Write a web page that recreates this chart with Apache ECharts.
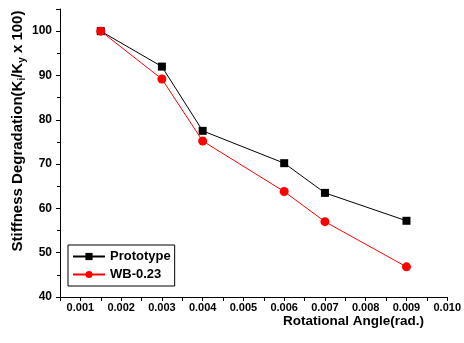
<!DOCTYPE html>
<html>
<head>
<meta charset="utf-8">
<script src="https://cdn.jsdelivr.net/npm/echarts@6/dist/echarts.min.js"></script>
<style>
html, body { margin: 0; padding: 0; background: #fff; }
#chart { width: 464px; height: 343px; }
</style>
</head>
<body>
<div id="chart"></div>
<script>
var angles = [0.0015, 0.003, 0.004, 0.006, 0.007, 0.009];
var prototype = [100, 92, 77.5, 70.2, 63.5, 57.2];
var wb023 = [100, 89.2, 75.2, 63.8, 57, 46.8];
var seriesNames = ['Prototype', 'WB-0.23'];

var pairs = function (xs, ys) {
    return xs.map((x, i) => [x, ys[i]])
}

var font = 'Arial, "Liberation Sans", sans-serif';

var chart = echarts.init(document.getElementById('chart'));
chart.setOption({
    animation: false,
    grid: { left: 60, top: 9, right: 14, bottom: 46 },
    legend: {
        data: seriesNames,
        orient: 'vertical',
        left: 68,
        top: 245,
        itemWidth: 32,
        itemHeight: 9,
        itemGap: 5,
        padding: [5, 4, 5, 4],
        borderColor: '#000',
        borderWidth: 1,
        textStyle: { fontFamily: font, fontWeight: 'bold', fontSize: 13, color: '#000' }
    },
    xAxis: {
        type: 'value',
        min: 0.0005,
        max: 0.010,
        interval: 0.0005,
        splitLine: { show: false },
        axisLine: { onZero: false, lineStyle: { color: '#000', width: 1 } },
        axisTick: { length: 4, lineStyle: { color: '#000' } },
        axisLabel: {
            margin: 5,
            fontFamily: font, fontWeight: 'bold', fontSize: 11, color: '#000',
            formatter: v => Math.round(v * 10000) % 10 === 0 ? v.toFixed(3) : ''
        }
    },
    yAxis: {
        type: 'value',
        min: 40,
        max: 105,
        interval: 10,
        splitLine: { show: false },
        axisLine: { show: true, lineStyle: { color: '#000', width: 1 } },
        axisTick: { show: true, length: 4, lineStyle: { color: '#000' } },
        minorTick: { show: true, splitNumber: 2, length: 3, lineStyle: { color: '#000' } },
        axisLabel: {
            margin: 8,
            fontFamily: font, fontWeight: 'bold', fontSize: 12, color: '#000',
            formatter: v => v > 100 ? '' : v
        }
    },
    graphic: [{
        type: 'text',
        x: 18,
        y: 131,
        rotation: Math.PI / 2,
        style: {
            text: 'Stiffness Degradation(K{s|i}/K{s|y} x 100)',
            font: 'bold 15px ' + font,
            fill: '#000',
            align: 'center',
            verticalAlign: 'middle',
            rich: {
                s: { font: 'bold 10px ' + font, fill: '#000', padding: [8, 0, 0, 0] }
            }
        }
    }, {
        type: 'text',
        left: 283,
        top: 314,
        style: {
            text: 'Rotational Angle(rad.)',
            font: 'bold 13.5px ' + font,
            fill: '#000'
        }
    }],
    series: [{
        name: seriesNames[0],
        type: 'line',
        data: pairs(angles, prototype),
        symbol: 'rect',
        symbolSize: 8,
        color: '#000',
        lineStyle: { width: 1, color: '#000' },
        itemStyle: { color: '#000' }
    }, {
        name: seriesNames[1],
        type: 'line',
        data: pairs(angles, wb023),
        symbol: 'circle',
        symbolSize: 9,
        color: '#ff0000',
        lineStyle: { width: 1, color: '#ff0000' },
        itemStyle: { color: '#ff0000' }
    }]
});
</script>
</body>
</html>
